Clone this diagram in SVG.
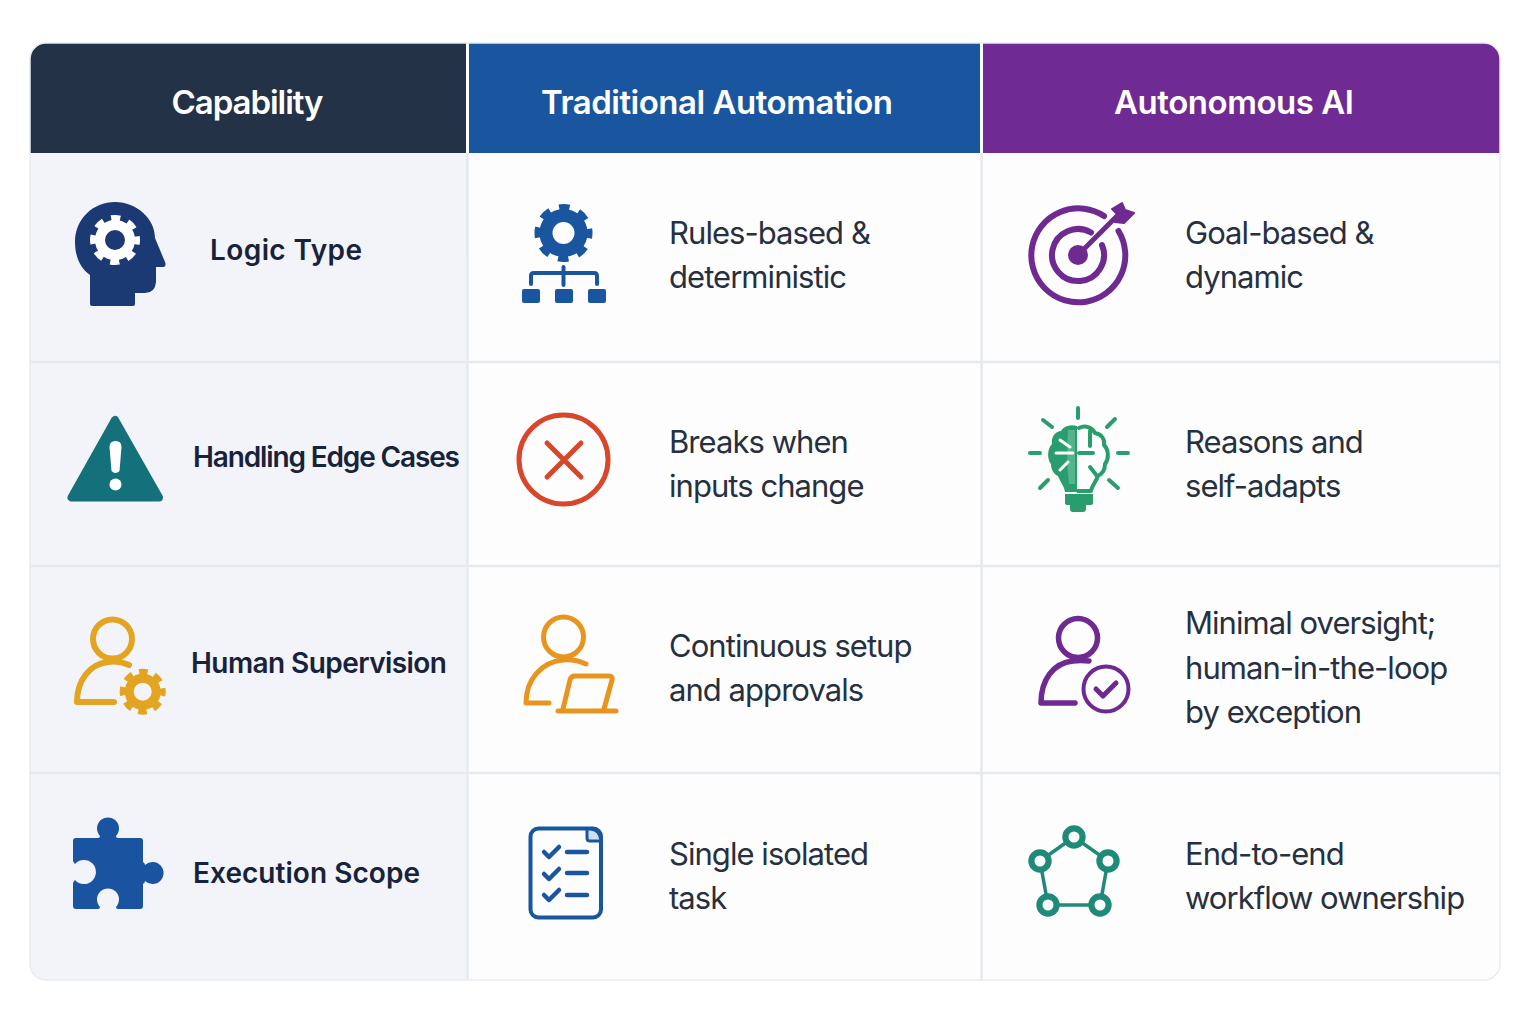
<svg xmlns="http://www.w3.org/2000/svg" width="1536" height="1024" viewBox="0 0 1536 1024">
<style>
text{font-family:"Inter","Noto Sans","Liberation Sans",sans-serif}
.h{font-size:33px;font-weight:600;fill:#fff;text-anchor:middle}
.l{font-size:28px;font-weight:600;fill:#17233a}
.c{font-size:31px;font-weight:400;fill:#27303f;letter-spacing:-.95px}
.line{fill:none;stroke-linecap:round;stroke-linejoin:round}
.div{stroke:#e6e9f0;stroke-width:2.500;fill:none}
</style>
<defs>
<clipPath id="card"><rect x="30" y="43" width="1470" height="937" rx="16"/></clipPath>
</defs>
<rect width="1536" height="1024" fill="#fff"/>
<g id="table">
<g clip-path="url(#card)">
<rect x="30" y="43" width="1470" height="937" fill="#fdfdfe"/>
<rect x="30" y="153" width="438" height="827" fill="#f2f4f9"/>
<rect x="30" y="43" width="436" height="110" fill="#233247"/>
<rect x="469" y="43" width="511" height="110" fill="#1a569f"/>
<rect x="983" y="43" width="517" height="110" fill="#702a94"/>
<path class="div" d="M30 362H1500M30 566H1500M30 773H1500M467.500 153V980M981.500 153V980"/>
</g>
<rect x="30" y="43" width="1470" height="937" rx="16" fill="none" stroke="#e8ebf1" stroke-width="1.500"/>
</g>
<g id="headers">
<text class="h" x="247.500" y="114" textLength="152" lengthAdjust="spacing">Capability</text>
<text class="h" x="717" y="114" textLength="352" lengthAdjust="spacing">Traditional Automation</text>
<text class="h" x="1234" y="114" textLength="240" lengthAdjust="spacing">Autonomous AI</text>
</g>
<g id="logic-type">
<path fill="#1b3a73" d="M90 304V275C80 268 75 256 75 242C75 219 93 202 115 202C137 202 155 219 155 238L165 262Q167 267 162 267H156V282Q155 293 145 293H135V304Q135 306 133 306H92Q90 306 90 304Z"/>
<g fill="none" stroke="#fff"><circle cx="115" cy="240" r="15" stroke-width="10"/><circle cx="115" cy="240" r="21.500" stroke-width="7" stroke-dasharray="9 7.890" stroke-dashoffset="4.500"/></g>
<text class="l" x="210" y="260" textLength="152" lengthAdjust="spacing">Logic Type</text>
</g>
<g id="edge-cases">
<path fill="#14707a" stroke="#14707a" stroke-width="8" stroke-linejoin="round" d="M115 420L71.500 497.500H159Z"/>
<path fill="#fff" d="M109.500 447Q109.500 441 115.500 441Q121.500 441 121.500 447L119.500 471Q115.500 475 111.500 471Z"/><circle cx="115.500" cy="484.500" r="6" fill="#fff"/>
<text class="l" x="193" y="467" textLength="267" lengthAdjust="spacing">Handling Edge Cases</text>
</g>
<g id="human-supervision">
<g class="line" stroke="#e3a421" stroke-width="6"><circle cx="112.500" cy="639" r="19.500"/><path d="M129 665Q118 660 108 662C90 664 77 680 77 702H114"/></g>
<g fill="none" stroke="#e3a421"><circle cx="142.700" cy="691.700" r="13.500" stroke-width="9"/><circle cx="142.700" cy="691.700" r="19.500" stroke-width="7" stroke-dasharray="8.500 6.820" stroke-dashoffset="4.250"/></g>
<text class="l" x="191" y="673" textLength="256" lengthAdjust="spacing">Human Supervision</text>
</g>
<g id="execution-scope">
<path fill="#1a539f" d="M76 838H98Q100 838 100 836A11 11 0 1 1 116 836Q116 838 118 838H140Q143 838 143 841V862Q145 863 145 865A11 11 0 1 1 145 881Q145 883 143 884V906Q143 909 140 909H118Q116 909 116 907A11 11 0 1 0 100 907Q100 909 98 909H76Q73 909 73 906V883Q74 881 75 880A12 12 0 1 0 75 864Q74 863 73 861V841Q73 838 76 838Z"/>
<text class="l" x="193" y="883" textLength="227" lengthAdjust="spacing">Execution Scope</text>
</g>
<g id="rules-based">
<g fill="none" stroke="#1a56a0"><circle cx="563.500" cy="233" r="17.500" stroke-width="13"/><circle cx="563.500" cy="233" r="25.500" stroke-width="7" stroke-dasharray="10.500 9.530" stroke-dashoffset="5.250"/></g>
<path class="line" stroke="#1a56a0" stroke-width="4" d="M563.500 267V285M531 284V276Q531 273 534 273H594Q597 273 597 276V284"/>
<g fill="#1a56a0"><rect x="522" y="289" width="18" height="14" rx="2"/><rect x="555" y="289" width="18" height="14" rx="2"/><rect x="588" y="289" width="18" height="14" rx="2"/></g>
<text class="c" x="669" y="244">Rules-based &amp;</text><text class="c" x="669" y="288">deterministic</text>
</g>
<g id="breaks">
<circle cx="563.500" cy="459.500" r="44.500" fill="none" stroke="#d9472b" stroke-width="5"/>
<path class="line" stroke="#d9472b" stroke-width="5" d="M547 443L581 477M581 443L547 477"/>
<text class="c" x="669" y="453">Breaks when</text><text class="c" x="669" y="497">inputs change</text>
</g>
<g id="continuous-setup">
<g class="line" stroke="#e8951f" stroke-width="5"><circle cx="563.500" cy="637" r="20"/><path d="M586 664Q575 659 563 660C541 662 526 680 526 703H549M563 709L570 680Q571 676 575 676H609Q613 676 612 680L604 709M558 711H616"/></g>
<text class="c" x="669" y="657">Continuous setup</text><text class="c" x="669" y="701">and approvals</text>
</g>
<g id="single-task">
<rect x="530.500" y="828.500" width="70.500" height="89" rx="8" fill="none" stroke="#1a56a0" stroke-width="4"/>
<path fill="#cfe0f2" stroke="#1a56a0" stroke-width="3" stroke-linejoin="round" d="M587 829V838Q587 841 590 841H601Q600 829 590 829Z"/>
<path class="line" stroke="#1a56a0" stroke-width="4.500" d="M544 852L549 857L559 847M544 874L549 879L559 869M544 895L549 900L559 890M567 852H587M567 873H587M567 895H587"/>
<text class="c" x="669" y="865">Single isolated</text><text class="c" x="669" y="909">task</text>
</g>
<g id="goal-based">
<g class="line" stroke="#6f2a92" stroke-width="6"><path d="M1104 216A47 47 0 1 0 1118.500 231"/><path d="M1091 232.500A26 26 0 1 0 1102 245"/></g>
<path class="line" stroke="#6f2a92" stroke-width="5" d="M1078 255L1122 211"/>
<circle cx="1078" cy="255" r="10" fill="#6f2a92"/>
<path fill="#6f2a92" stroke="#6f2a92" stroke-width="2" stroke-linejoin="round" d="M1112 209L1122 203L1125 210L1134 213L1124 223L1115 222L1118 215Z"/>
<text class="c" x="1185" y="244">Goal-based &amp;</text><text class="c" x="1185" y="288">dynamic</text>
</g>
<g id="reasons">
<path class="line" stroke="#2a9d6e" stroke-width="4" d="M1078 408V418M1030 453H1040M1118 453H1128M1043 420L1052 427M1115 419L1107 427M1040 488L1048 480M1118 488L1109 480"/>
<path fill="#2a9d6e" d="M1077 426C1070 424 1064 426 1061 431C1054 432 1051 438 1052 444C1047 449 1047 459 1051 464C1051 470 1054 474 1058 476C1060 482 1064 485 1065 492H1077Z"/>
<path fill="#55b48c" d="M1068 430H1075V484H1069Q1066 460 1068 430Z"/>
<path class="line" stroke="#2a9d6e" stroke-width="4" d="M1079 428C1085 425 1092 427 1095 433C1102 434 1105 440 1104 445C1109 450 1109 459 1105 464C1105 470 1102 474 1098 476C1096 482 1092 485 1091 491H1078M1079 453H1093M1090 431V446M1090 467L1097 476"/>
<path class="line" stroke="#fff" stroke-width="3" d="M1056 453H1073M1060 440L1070 447M1060 470L1068 462"/>
<path fill="#2a9d6e" d="M1065 494H1093V503Q1093 505 1090 505H1086V509Q1086 512 1083 512H1073Q1070 512 1070 509V505H1068Q1065 505 1065 503Z"/>
<text class="c" x="1185" y="453">Reasons and</text><text class="c" x="1185" y="497">self-adapts</text>
</g>
<g id="minimal-oversight">
<g class="line" stroke="#6f2a92" stroke-width="5.500"><circle cx="1078" cy="638" r="19.500"/><path d="M1089 661Q1080 660 1073 661C1053 663 1041 680 1041 703H1075"/></g>
<circle cx="1106" cy="689" r="22.500" fill="none" stroke="#6f2a92" stroke-width="4"/>
<path class="line" stroke="#6f2a92" stroke-width="5" d="M1096 689L1103 696L1116 683"/>
<text class="c" x="1185" y="634">Minimal oversight;</text><text class="c" x="1185" y="679">human-in-the-loop</text><text class="c" x="1185" y="723">by exception</text>
</g>
<g id="workflow">
<path fill="none" stroke="#1f8a78" stroke-width="3.500" d="M1074 837L1108 861L1100 905H1048L1040 861Z"/>
<g fill="#fdfdfe" stroke="#1f8a78" stroke-width="6.200"><circle cx="1074" cy="837" r="8.600"/><circle cx="1040" cy="861" r="8.600"/><circle cx="1108" cy="861" r="8.600"/><circle cx="1048" cy="905" r="8.600"/><circle cx="1100" cy="905" r="8.600"/></g>
<text class="c" x="1185" y="865">End-to-end</text><text class="c" x="1185" y="909">workflow ownership</text>
</g>
</svg>
